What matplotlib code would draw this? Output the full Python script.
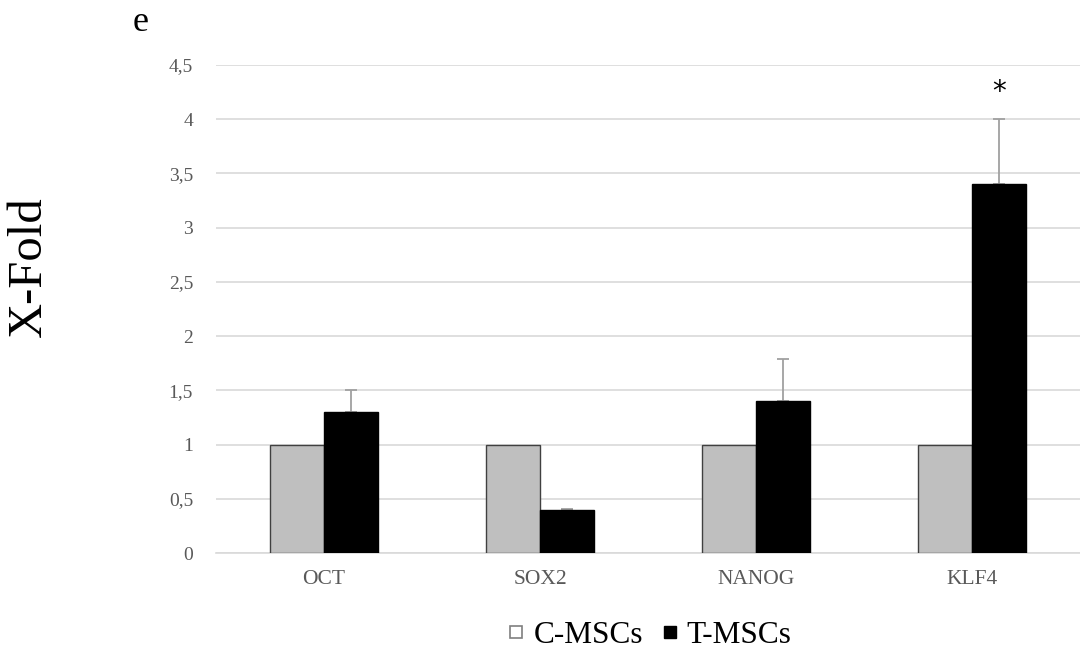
import matplotlib
matplotlib.use('Agg')
import matplotlib.pyplot as plt
import numpy as np
from matplotlib.lines import Line2D

# 数据
genes = ['OCT', 'SOX2', 'NANOG', 'KLF4']
c_mscs = [1.0, 1.0, 1.0, 1.0]
t_mscs = [1.3, 0.4, 1.4, 3.4]
t_err = [0.2, 0.01, 0.39, 0.6]
y_ticks = [0, 0.5, 1, 1.5, 2, 2.5, 3, 3.5, 4, 4.5]
y_tick_labels = ['0', '0,5', '1', '1,5', '2', '2,5', '3', '3,5', '4', '4,5']

plt.rcParams['font.family'] = ['Liberation Serif', 'DejaVu Serif']

fig = plt.figure(figsize=(10.8, 6.59), dpi=100)
ax = fig.add_axes([0.2, 0.1608, 0.8, 0.7406])

x = np.arange(len(genes))
w = 0.25
ax.bar(x - w / 2, c_mscs, w, color='#BFBFBF', edgecolor='#404040', linewidth=1, zorder=3)
ax.bar(x + w / 2, t_mscs, w, color='black', edgecolor='black', linewidth=1, zorder=3)
ax.errorbar(x + w / 2, t_mscs, yerr=[np.zeros(len(t_err)), t_err], fmt='none',
            ecolor='#A0A0A0', elinewidth=1.3, capsize=4.5, capthick=1.3, zorder=2)

# 显著性标记
ax.text(x[3] + w / 2, 4.25, '*', ha='center', va='center', fontsize=20, family='DejaVu Sans')

ax.set_xlim(-0.5, len(genes) - 0.5)
ax.set_ylim(0, 4.5)
ax.set_yticks(y_ticks)
ax.set_yticklabels(y_tick_labels)
ax.set_xticks(x)
ax.set_xticklabels(genes)
ax.tick_params(axis='x', length=0, labelsize=15.5, colors='#595959', pad=12)
ax.tick_params(axis='y', length=0, labelsize=14, colors='#595959', pad=16.5)
ax.yaxis.grid(True, color='#D9D9D9', linewidth=1.2, zorder=0)
ax.set_axisbelow(True)
for s in ['top', 'right', 'left']:
    ax.spines[s].set_visible(False)
ax.spines['bottom'].set_color('#D9D9D9')
ax.spines['bottom'].set_linewidth(1.2)

fig.text(0.027, 0.596, 'X-Fold', rotation=90, ha='center', va='center', fontsize=35)
fig.text(0.1306, 0.953, 'e', ha='center', va='baseline', fontsize=26)

handles = [
    Line2D([], [], marker='s', linestyle='none', markersize=8, markerfacecolor='white',
           markeredgecolor='#7F7F7F', markeredgewidth=1.2),
    Line2D([], [], marker='s', linestyle='none', markersize=8.5, markerfacecolor='black',
           markeredgecolor='black'),
]
fig.legend(handles, ['C-MSCs', 'T-MSCs'], loc='center', bbox_to_anchor=(0.602, 0.036),
           ncol=2, frameon=False, fontsize=22.5, handlelength=0.5, handletextpad=0.3,
           columnspacing=0.6)

fig.savefig('out.png', dpi=100)
